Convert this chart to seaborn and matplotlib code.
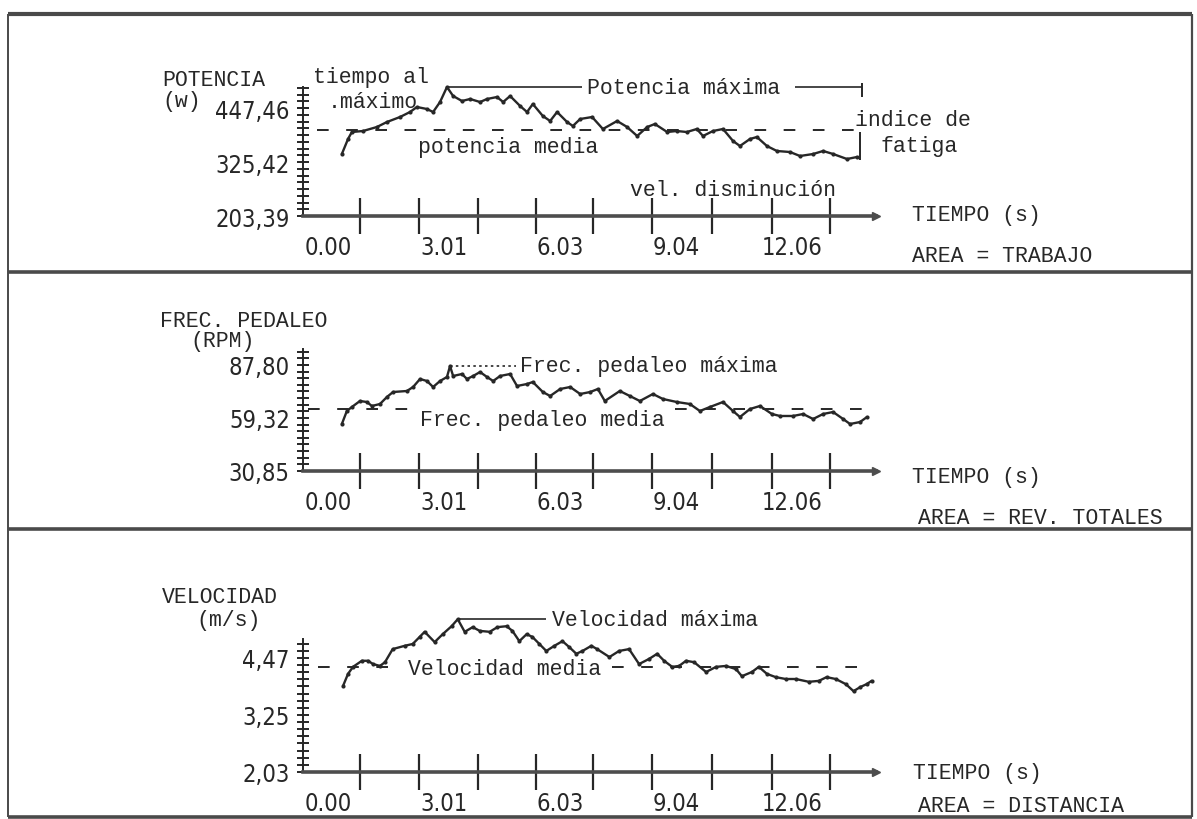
import matplotlib
matplotlib.use("Agg")
import numpy as np
import pandas as pd
import matplotlib.pyplot as plt
import seaborn as sns
from matplotlib import font_manager as fm
from matplotlib.lines import Line2D

# ---------------- data ----------------
time_ticks = [0.00, 3.01, 6.03, 9.04, 12.06]
time_labels = ["0.00", "3.01", "6.03", "9.04", "12.06"]

pot_ticks = [203.39, 325.42, 447.46]
pot_labels = ["203,39", "325,42", "447,46"]
pot_t = [0.36, 0.52, 0.62, 0.91, 1.27, 1.53, 1.87, 2.13, 2.31, 2.57, 2.73, 2.91, 3.09,
         3.25, 3.48, 3.69, 3.95, 4.13, 4.39, 4.55, 4.73, 4.99, 5.17, 5.32, 5.58, 5.77,
         5.95, 6.21, 6.36, 6.55, 6.86, 7.14, 7.51, 7.77, 8.03, 8.29, 8.49, 8.81, 9.06,
         9.32, 9.58, 9.74, 10.00, 10.26, 10.52, 10.70, 10.96, 11.14, 11.40, 11.66, 12.00,
         12.26, 12.60, 12.86, 13.12, 13.48, 13.74]
pot_w = [343.5, 377.4, 393.2, 395.5, 404.5, 415.8, 427.1, 438.4, 449.7, 445.2, 438.4, 461.0,
         494.9, 474.6, 463.3, 467.8, 461.0, 467.8, 472.3, 461.0, 474.6, 452.0, 438.4, 456.5,
         429.4, 418.1, 438.4, 415.8, 406.8, 422.6, 427.1, 400.0, 418.1, 404.5, 384.2, 404.5,
         411.3, 393.2, 395.5, 393.2, 400.0, 384.2, 395.5, 400.0, 372.9, 361.6, 377.4, 381.9,
         361.6, 350.3, 348.0, 339.0, 343.5, 350.3, 343.5, 332.2, 336.7]
pot_max = 494.9
pot_mean = 397.8

rpm_ticks = [30.85, 59.32, 87.80]
rpm_labels = ["30,85", "59,32", "87,80"]
rpm_t = [0.36, 0.49, 0.62, 0.83, 1.01, 1.14, 1.35, 1.53, 1.69, 2.05, 2.21, 2.39, 2.57, 2.73,
         2.91, 3.09, 3.17, 3.25, 3.48, 3.61, 3.77, 3.95, 4.13, 4.29, 4.47, 4.73, 4.91, 5.17,
         5.32, 5.58, 5.77, 6.03, 6.29, 6.55, 6.81, 7.01, 7.19, 7.58, 7.84, 8.10, 8.44, 8.70,
         9.06, 9.40, 9.66, 9.92, 10.26, 10.52, 10.70, 10.96, 11.22, 11.53, 11.74, 12.08,
         12.34, 12.60, 12.86, 13.12, 13.38, 13.56, 13.82, 14.00]
rpm_v = [56.09, 63.07, 65.22, 68.44, 67.90, 65.76, 66.83, 70.59, 73.27, 73.81, 75.96, 80.25,
         79.18, 75.96, 79.18, 81.33, 87.24, 81.87, 82.94, 80.25, 81.87, 84.01, 81.33, 79.18,
         81.87, 82.94, 76.50, 77.57, 78.64, 73.27, 71.13, 74.88, 75.96, 72.20, 73.27, 74.88,
         68.44, 73.81, 71.13, 68.44, 72.20, 69.51, 67.90, 66.83, 63.07, 65.22, 67.90, 63.07,
         59.85, 64.14, 65.76, 61.46, 60.39, 60.39, 61.46, 58.77, 61.46, 62.53, 58.77, 56.09,
         57.16, 59.85]
rpm_max = 87.24
rpm_mean = 64.14

vel_ticks = [2.03, 3.25, 4.47]
vel_labels = ["2,03", "3,25", "4,47"]
vel_t = [0.39, 0.52, 0.65, 0.88, 1.04, 1.17, 1.35, 1.48, 1.68, 1.99, 2.20, 2.38, 2.51, 2.77,
         2.98, 3.21, 3.37, 3.55, 3.76, 3.94, 4.20, 4.40, 4.64, 4.79, 4.97, 5.16, 5.31, 5.49,
         5.67, 5.88, 6.09, 6.27, 6.45, 6.61, 6.84, 6.99, 7.31, 7.56, 7.82, 8.08, 8.34, 8.55,
         8.73, 8.94, 9.12, 9.30, 9.51, 9.82, 10.08, 10.34, 10.60, 10.75, 11.01, 11.19, 11.40,
         11.63, 11.89, 12.15, 12.49, 12.75, 12.95, 13.19, 13.45, 13.65, 13.83, 13.99, 14.12]
vel_v = [3.87, 4.13, 4.28, 4.41, 4.41, 4.34, 4.30, 4.38, 4.66, 4.73, 4.77, 4.92, 5.03, 4.81,
         4.98, 5.15, 5.30, 5.03, 5.13, 5.05, 5.03, 5.13, 5.15, 5.05, 4.83, 4.98, 4.92, 4.77,
         4.62, 4.73, 4.83, 4.70, 4.56, 4.62, 4.73, 4.66, 4.49, 4.62, 4.66, 4.34, 4.45, 4.56,
         4.41, 4.28, 4.30, 4.41, 4.38, 4.17, 4.28, 4.30, 4.23, 4.08, 4.17, 4.28, 4.13, 4.06,
         4.02, 4.02, 3.96, 3.98, 4.06, 4.02, 3.91, 3.76, 3.85, 3.91, 3.98]
vel_max = 5.30
vel_mean = 4.28

# ---------------- style ----------------
sns.set_theme(style="white")
names = {f.name for f in fm.fontManager.ttflist}
MONO = "Liberation Mono" if "Liberation Mono" in names else "DejaVu Sans Mono"
if "Liberation Sans Narrow" in names:
    NUM_FAMILY, NUM_STRETCH = "Liberation Sans Narrow", "normal"
else:
    NUM_FAMILY, NUM_STRETCH = "DejaVu Sans", "condensed"
plt.rcParams["font.family"] = [MONO, "DejaVu Sans"]

W, H = 1197, 820
INK = "#272727"
AXC = "#4d4d4d"
TXT = 15.5
NUMSIZE = 17
fig = plt.figure(figsize=(W / 100, H / 100), dpi=100)
fig.patch.set_facecolor("white")

T0_PX, PX_S = 328.0, 38.5
YAX_PX, XEND_PX = 303.0, 876.0
XTICK_PX = [360, 419, 478, 536, 593, 652, 712, 772, 830]


def tx(px):
    return (px - T0_PX) / PX_S


def ftext(x, y, s, size=TXT, **kw):
    fig.text(x / W, 1 - y / H, s, fontsize=size, color=INK, family=[MONO, "DejaVu Sans"],
             va="center", ha="left", **kw)


def make_panel(top, bottom, y0_px, ticks, labels, ppu, ytop_px):
    y0 = ticks[0]
    ax = fig.add_axes([0, 1 - bottom / H, 1, (bottom - top) / H])
    ax.set_xlim(tx(0), tx(W))
    ax.set_ylim(y0 - (bottom - y0_px) / ppu, y0 + (y0_px - top) / ppu)
    ax.patch.set_alpha(0)
    ax.grid(False)
    for s in ("top", "right"):
        ax.spines[s].set_visible(False)
    ytop = y0 + (y0_px - ytop_px) / ppu
    ax.spines["left"].set_position(("data", tx(YAX_PX)))
    ax.spines["left"].set_bounds(y0, ytop)
    ax.spines["left"].set_color(INK)
    ax.spines["left"].set_linewidth(1.4)
    ax.spines["bottom"].set_position(("data", y0))
    ax.spines["bottom"].set_bounds(tx(YAX_PX), tx(XEND_PX))
    ax.spines["bottom"].set_color(AXC)
    ax.spines["bottom"].set_linewidth(2.6)
    ax.set_yticks(ticks)
    ax.set_yticklabels(labels)
    step = (ticks[1] - ticks[0]) / 8
    ax.set_yticks(np.arange(y0, ytop + 1e-9, step), minor=True)
    ax.set_xticks(time_ticks)
    ax.set_xticklabels(time_labels)
    ax.set_xticks([tx(p) for p in XTICK_PX], minor=True)
    ax.tick_params(axis="y", which="both", direction="inout", length=9, width=1.4,
                   color=INK, left=True)
    ax.tick_params(axis="y", which="major", pad=5, labelsize=NUMSIZE, labelcolor=INK)
    ax.tick_params(axis="x", which="major", length=0, pad=14, labelsize=NUMSIZE,
                   labelcolor=INK, bottom=True)
    ax.tick_params(axis="x", which="minor", direction="inout", length=26, width=1.6,
                   color=INK, bottom=True)
    for lab in ax.get_xticklabels() + ax.get_yticklabels():
        lab.set_fontfamily(NUM_FAMILY)
        lab.set_fontstretch(NUM_STRETCH)
    ax.plot([tx(XEND_PX)], [y0], marker=">", ms=6, color=AXC, clip_on=False)
    return ax


def curve(ax, t, v):
    sns.lineplot(x=t, y=v, ax=ax, color=INK, lw=1.7, marker="o", markersize=3,
                 markeredgewidth=0, estimator=None, sort=False, legend=False)


DASH = (0, (6, 9))

# ---------------- panel 1: potencia ----------------
ax1 = make_panel(15, 273, 217, pot_ticks, pot_labels, 1 / 2.26, 88)
ax1.hlines(pot_mean, tx(317), tx(857), colors=INK, linestyles=DASH, lw=1.4)
curve(ax1, pot_t, pot_w)
i1 = int(np.argmax(pot_w))
ax1.hlines(pot_max, pot_t[i1], tx(582), colors=INK, lw=1.2)
ax1.text(tx(587), pot_max, "Potencia máxima", fontsize=TXT, color=INK, va="center")
ax1.hlines(pot_max, tx(795), tx(862), colors=INK, lw=1.2)
ax1.vlines(tx(862), pot_max - 22, pot_max + 10, colors=INK, lw=1.4)
ax1.vlines(tx(860), pot_w[-1] - 6, pot_mean - 4, colors=INK, lw=1.4)

ftext(162, 80, "POTENCIA")
ftext(162, 102, "(w)")
ftext(313, 78, "tiempo al")
ftext(328, 102, ".máximo")
ftext(418, 148, "potencia media")
ftext(855, 120, "indice de")
ftext(880, 147, "fatiga")
ftext(630, 190, "vel. disminución")
ftext(912, 215, "TIEMPO (s)")
ftext(912, 256, "AREA = TRABAJO")

# ---------------- panel 2: frecuencia de pedaleo ----------------
ax2 = make_panel(273, 530, 472, rpm_ticks, rpm_labels, 1 / 0.537, 350)
ax2.hlines(rpm_mean, tx(308), tx(410), colors=INK, linestyles=DASH, lw=1.4)
ax2.hlines(rpm_mean, tx(675), tx(877), colors=INK, linestyles=DASH, lw=1.4)
curve(ax2, rpm_t, rpm_v)
i2 = int(np.argmax(rpm_v))
ax2.hlines(rpm_max, rpm_t[i2], tx(516), colors=INK, linestyles=(0, (1.5, 2)), lw=1.2)
ax2.text(tx(520), rpm_max, "Frec. pedaleo máxima", fontsize=TXT, color=INK, va="center")

ftext(160, 322, "FREC. PEDALEO")
ftext(190, 342, "(RPM)")
ftext(420, 421, "Frec. pedaleo media")
ftext(912, 478, "TIEMPO (s)")
ftext(918, 518, "AREA = REV. TOTALES")

# ---------------- panel 3: velocidad ----------------
ax3 = make_panel(530, 818, 773, vel_ticks, vel_labels, 1 / 0.0214, 640)
ax3.hlines(vel_mean, tx(318), tx(400), colors=INK, linestyles=DASH, lw=1.4)
ax3.hlines(vel_mean, tx(612), tx(870), colors=INK, linestyles=DASH, lw=1.4)
curve(ax3, vel_t, vel_v)
i3 = int(np.argmax(vel_v))
ax3.hlines(vel_max, vel_t[i3], tx(546), colors=INK, lw=1.2)
ax3.text(tx(552), vel_max, "Velocidad máxima", fontsize=TXT, color=INK, va="center")

ftext(162, 598, "VELOCIDAD")
ftext(196, 621, "(m/s)")
ftext(408, 670, "Velocidad media")
ftext(913, 774, "TIEMPO (s)")
ftext(918, 807, "AREA = DISTANCIA")

# ---------------- frame and separators ----------------
def fline(x0, y0, x1, y1, lw, color="#4a4a4a"):
    fig.add_artist(Line2D([x0 / W, x1 / W], [1 - y0 / H, 1 - y1 / H], lw=lw, color=color,
                          solid_capstyle="butt"))

fline(8, 15, 1192, 15, 3.0)
fline(8, 15, 8, 818, 1.4)
fline(1192, 15, 1192, 818, 1.6)
fline(8, 273, 1192, 273, 2.6)
fline(8, 530, 1192, 530, 2.6)
fline(8, 818, 1192, 818, 2.6)

fig.savefig("out.png", dpi=100, facecolor="white")
